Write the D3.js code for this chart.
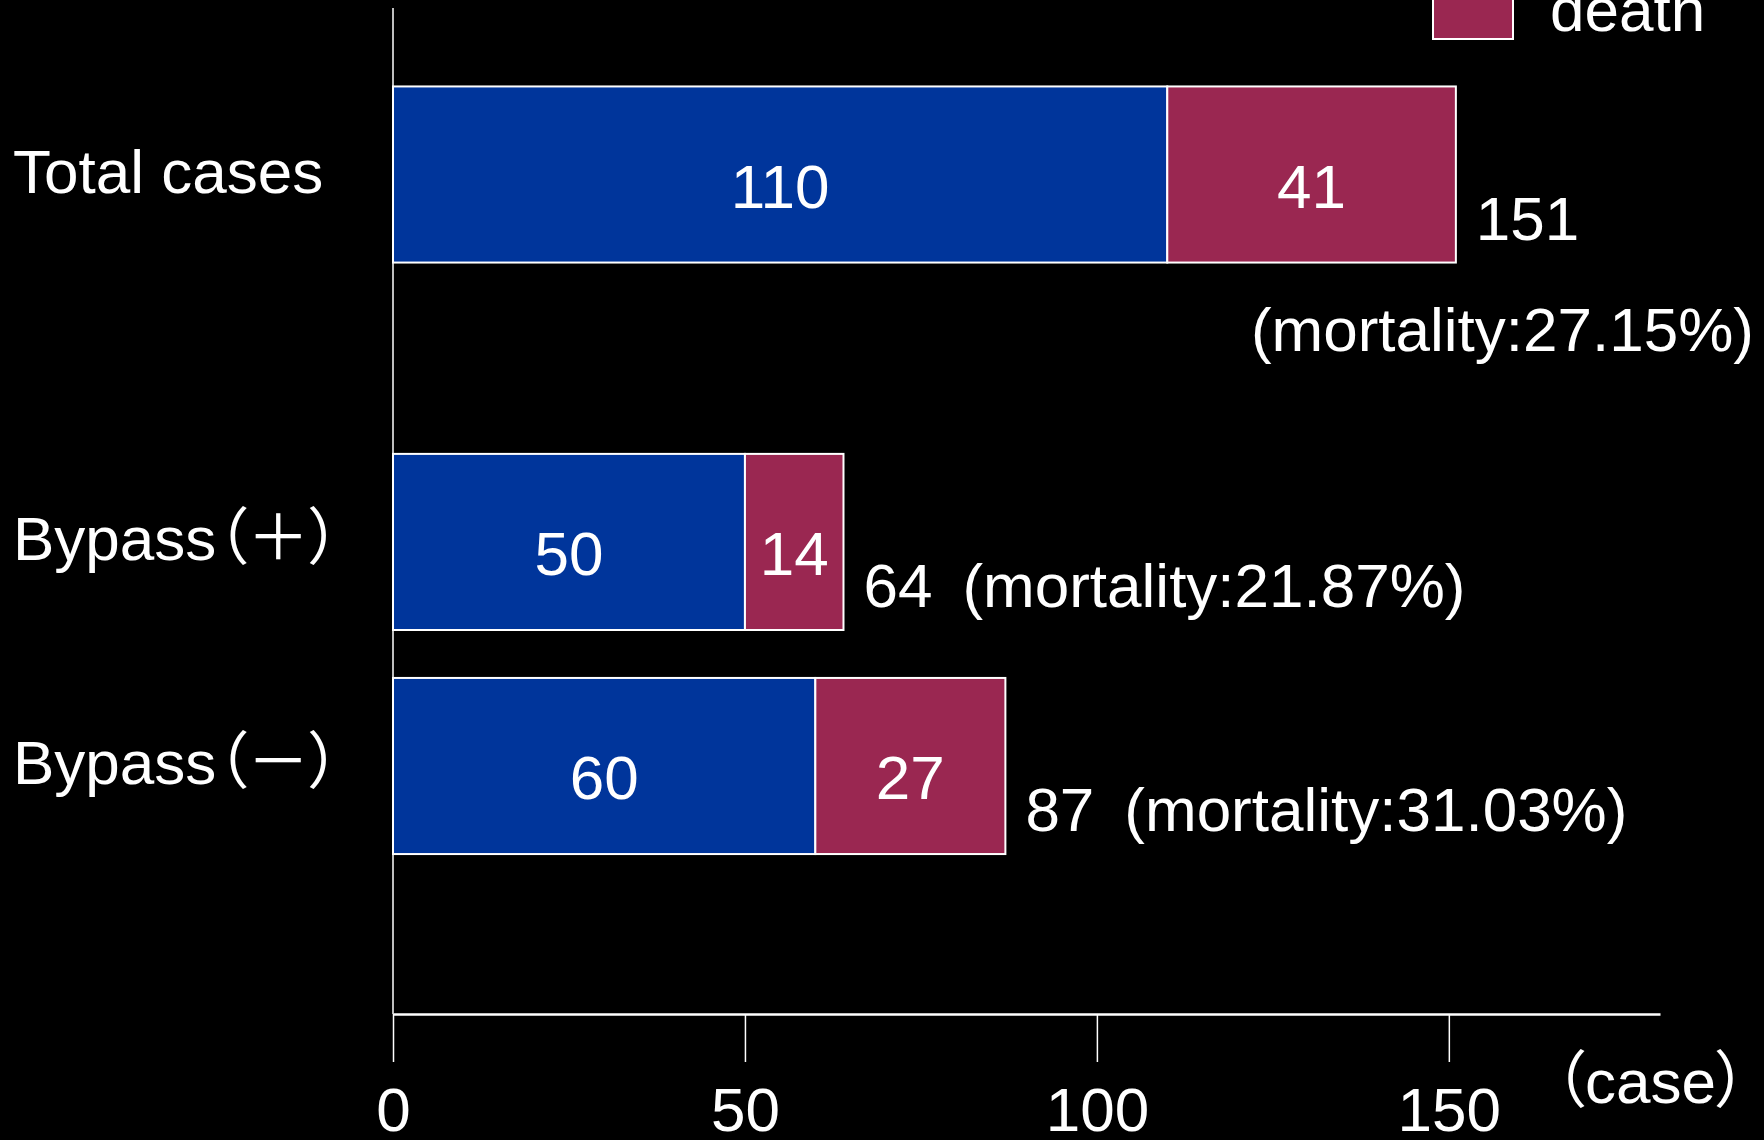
<!DOCTYPE html>
<html>
<head>
<meta charset="utf-8">
<script src="https://cdn.jsdelivr.net/npm/d3@7"></script>
<style>
  html, body { margin: 0; padding: 0; background: #000; overflow: hidden; }
  svg text { font-family: "Liberation Sans", Arial, "Noto Sans CJK JP", sans-serif; font-feature-settings: "palt"; fill: #fff; }
</style>
</head>
<body>
<div id="chart"></div>
<script>
//Datos
const categories = ['Total cases', 'Bypass（＋）', 'Bypass（－）'];
const survival = [110, 50, 60];
const death = [41, 14, 27];
const mortality = ['27.15%', '21.87%', '31.03%'];
const xTicks = [0, 50, 100, 150];
const legendLabels = ['death'];

//Colores
const COLOR_SURV = '#00359b',
COLOR_DEATH = '#9a2751',
COLOR_LINE = '#ffffff';

const W = 1764, H = 1140;
const FONT = 62;

let svg = d3.select('#chart')
    .append('svg')
      .attr('width', W)
      .attr('height', H)
      .style('background', '#000');

let x = d3.scaleLinear()
    .domain([0, 180])
    .range([393, 1660]);

//filas: la primera separada del grupo bypass
const groupGap = 0.64;
let slot = function(i) { return i + (i > 0 ? groupGap : 0); };
let yc = d3.scaleLinear()
    .domain([0, slot(categories.length - 1)])
    .range([174.5, 766]);
const step = yc(slot(2)) - yc(slot(1));
const barH = step * 0.786;
const axisY = 1014;

//Eje x
let xAxis = svg.append('g')
    .attr('transform', 'translate(0,' + axisY + ')')
    .call(d3.axisBottom(x).tickValues(xTicks).tickSize(48).tickSizeOuter(0).tickPadding(25));
xAxis.attr('font-family', null).attr('font-size', null);
xAxis.select('.domain').attr('stroke', COLOR_LINE).attr('stroke-width', 2.5);
xAxis.selectAll('.tick line').attr('stroke', COLOR_LINE).attr('stroke-width', 1.5);
xAxis.selectAll('.tick text').style('font-size', FONT + 'px').attr('fill', '#fff');

svg.append('text')
    .attr('x', W - 17)
    .attr('y', 1103)
    .attr('text-anchor', 'end')
    .style('font-size', FONT + 'px')
    .text('（case）');

//Eje y
svg.append('line')
    .attr('x1', x(0)).attr('x2', x(0))
    .attr('y1', 8).attr('y2', axisY)
    .attr('stroke', COLOR_LINE)
    .attr('stroke-width', 1.5);

let rows = categories.map(function(c, i) {
    return { cat: c, surv: survival[i], death: death[i], mort: mortality[i], cy: yc(slot(i)) };
});

let g = svg.selectAll('.row')
    .data(rows)
    .enter()
    .append('g')
    .attr('class', 'row');

g.append('rect')
    .attr('x', x(0))
    .attr('y', function(d) { return d.cy - barH / 2; })
    .attr('width', function(d) { return x(d.surv) - x(0); })
    .attr('height', barH)
    .attr('fill', COLOR_SURV)
    .attr('stroke', COLOR_LINE)
    .attr('stroke-width', 2);

g.append('rect')
    .attr('x', function(d) { return x(d.surv); })
    .attr('y', function(d) { return d.cy - barH / 2; })
    .attr('width', function(d) { return x(d.surv + d.death) - x(d.surv); })
    .attr('height', barH)
    .attr('fill', COLOR_DEATH)
    .attr('stroke', COLOR_LINE)
    .attr('stroke-width', 2);

//Etiquetas dentro de las barras
g.append('text')
    .attr('x', function(d) { return (x(0) + x(d.surv)) / 2; })
    .attr('y', function(d) { return d.cy + 33; })
    .attr('text-anchor', 'middle')
    .style('font-size', FONT + 'px')
    .text(function(d) { return d.surv; });

g.append('text')
    .attr('x', function(d) { return (x(d.surv) + x(d.surv + d.death)) / 2; })
    .attr('y', function(d) { return d.cy + 33; })
    .attr('text-anchor', 'middle')
    .style('font-size', FONT + 'px')
    .text(function(d) { return d.death; });

//Categorías
g.append('text')
    .attr('x', 13)
    .attr('y', function(d) { return d.cy + 18; })
    .style('font-size', FONT + 'px')
    .text(function(d) { return d.cat; });

//Total y mortalidad
g.each(function(d) {
    let el = d3.select(this);
    let tx = x(d.surv + d.death) + 20;
    let total = el.append('text')
        .attr('x', tx)
        .attr('y', d.cy + 65)
        .style('font-size', FONT + 'px')
        .text(d.surv + d.death);
    let tw = total.node().getComputedTextLength();
    let mort = el.append('text')
        .attr('x', tx + tw + 30)
        .attr('y', d.cy + 65)
        .style('font-size', FONT + 'px')
        .text('(mortality:' + d.mort + ')');
    let mw = mort.node().getComputedTextLength();
    if (tx + tw + 30 + mw > W - 8) {
        mort.attr('x', W - 10)
            .attr('text-anchor', 'end')
            .attr('y', d.cy + 176);
    }
});

//Leyenda
let legend = svg.append('g')
    .attr('transform', 'translate(1433,-21)');

legend.selectAll('rect')
    .data(legendLabels)
    .enter()
    .append('rect')
    .attr('x', 0)
    .attr('y', 0)
    .attr('width', 80)
    .attr('height', 60)
    .attr('fill', COLOR_DEATH)
    .attr('stroke', COLOR_LINE)
    .attr('stroke-width', 2);

legend.selectAll('text')
    .data(legendLabels)
    .enter()
    .append('text')
    .attr('x', 117)
    .attr('y', 52)
    .style('font-size', FONT + 'px')
    .text(function(d) { return d; });
</script>
</body>
</html>
